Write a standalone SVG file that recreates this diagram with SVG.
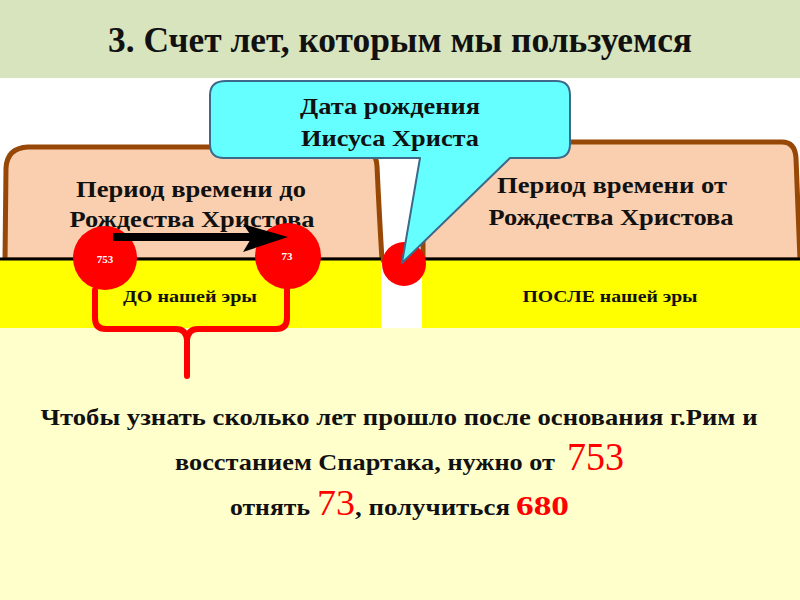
<svg xmlns="http://www.w3.org/2000/svg" width="800" height="600" viewBox="0 0 800 600">
<style>
.t{font-family:"Liberation Serif","Times New Roman",serif;font-weight:bold;fill:#111}
.rn{font-family:"Liberation Serif","Times New Roman",serif;fill:#ff0000}
.shape{fill:#f9cfb0;stroke:#974806;stroke-width:5;stroke-linejoin:round}
.yel{fill:#ffff00}
.red{fill:#ff0000}
.brace{fill:none;stroke:#ff0000;stroke-width:6;stroke-linecap:round;stroke-linejoin:round}
.num{font-family:"Liberation Serif","Times New Roman",serif;font-weight:bold;fill:#ffffff;font-size:11px}
</style>
<rect x="0" y="0" width="800" height="600" fill="#ffffff"/>
<rect x="0" y="0" width="800" height="78" fill="#d7e4bd"/>
<rect x="0" y="328" width="800" height="272" fill="#ffffcc"/>
<text class="t" x="400" y="52" font-size="35" text-anchor="middle" textLength="584" lengthAdjust="spacingAndGlyphs">3. Счет лет, которым мы пользуемся</text>

<g id="before">
<path class="shape" d="M5,260 L6,168 Q7,148 28,147 L358,147 Q376,148 377,166 Q379,210 382,260 Z"/>
<rect class="yel" x="0" y="260" width="381" height="68"/>
<line x1="0" y1="259" x2="381" y2="259" stroke="#000" stroke-width="3"/>
<text class="t" x="191" y="197" font-size="23" text-anchor="middle" textLength="230" lengthAdjust="spacingAndGlyphs">Период времени до</text>
<text class="t" x="192" y="227" font-size="23" text-anchor="middle" textLength="245" lengthAdjust="spacingAndGlyphs">Рождества Христова</text>
<text class="t" x="190" y="302" font-size="17" text-anchor="middle" textLength="134" lengthAdjust="spacingAndGlyphs">ДО нашей эры</text>
</g>

<g id="after">
<path class="shape" d="M423,260 L423,156 Q423,142 437,142 L782,142 Q795,142 796,158 Q798,210 800,260 Z"/>
<rect class="yel" x="422" y="260" width="378" height="68"/>
<line x1="422" y1="259" x2="800" y2="259" stroke="#000" stroke-width="3"/>
<text class="t" x="612" y="193" font-size="23" text-anchor="middle" textLength="230" lengthAdjust="spacingAndGlyphs">Период времени от</text>
<text class="t" x="611" y="225" font-size="23" text-anchor="middle" textLength="245" lengthAdjust="spacingAndGlyphs">Рождества Христова</text>
<text class="t" x="610" y="302" font-size="17" text-anchor="middle" textLength="175" lengthAdjust="spacingAndGlyphs">ПОСЛЕ нашей эры</text>
</g>

<g id="connectors">
<path class="brace" d="M95,290 L95,318 Q95,329 106,329 L176,329 Q186,329 187,340 L187,376"/>
<path class="brace" d="M287,288 L287,318 Q287,329 276,329 L198,329 Q188,329 187,340"/>
</g>

<g id="c753">
<circle class="red" cx="105" cy="258" r="32"/>
<text class="num" x="105" y="263" text-anchor="middle">753</text>
</g>
<g id="c73">
<circle class="red" cx="288" cy="256" r="33"/>
<text class="num" x="287" y="260" text-anchor="middle">73</text>
</g>
<g id="arrow">
<line x1="113" y1="237" x2="252" y2="237" stroke="#000" stroke-width="8"/>
<path d="M243,224 L288,237 L243,252 L252,237 Z" fill="#000"/>
</g>
<g id="birth">
<circle class="red" cx="404" cy="264" r="22"/>
</g>

<g id="callout">
<path d="M226,81 L556,81 Q570,81 570,95 L570,144 Q570,158 556,158 L510,158 L402,263 L420,158 L224,158 Q210,158 210,144 L210,95 Q210,81 226,81 Z" fill="#66ffff" stroke="#3d6a8a" stroke-width="2" stroke-linejoin="round"/>
<text class="t" x="390" y="114" font-size="23" text-anchor="middle" textLength="180" lengthAdjust="spacingAndGlyphs">Дата рождения</text>
<text class="t" x="390" y="146" font-size="23" text-anchor="middle" textLength="178" lengthAdjust="spacingAndGlyphs">Иисуса Христа</text>
</g>

<g id="explain">
<text class="t" x="399" y="425" font-size="23" text-anchor="middle" textLength="717" lengthAdjust="spacingAndGlyphs">Чтобы узнать сколько лет прошло после основания г.Рим и</text>
<text class="t" x="175" y="470" font-size="23" textLength="380" lengthAdjust="spacingAndGlyphs">восстанием Спартака, нужно от</text>
<text class="rn" x="567" y="470" font-size="39" textLength="57" lengthAdjust="spacingAndGlyphs">753</text>
<text class="t" x="230" y="515" font-size="23" textLength="80" lengthAdjust="spacingAndGlyphs">отнять</text>
<text class="rn" x="317" y="515" font-size="35" textLength="38" lengthAdjust="spacingAndGlyphs">73</text>
<text class="t" x="355" y="515" font-size="23" textLength="155" lengthAdjust="spacingAndGlyphs">, получиться</text>
<text class="rn" x="516" y="515" font-size="28" font-weight="bold" textLength="53" lengthAdjust="spacingAndGlyphs">680</text>
</g>
</svg>
